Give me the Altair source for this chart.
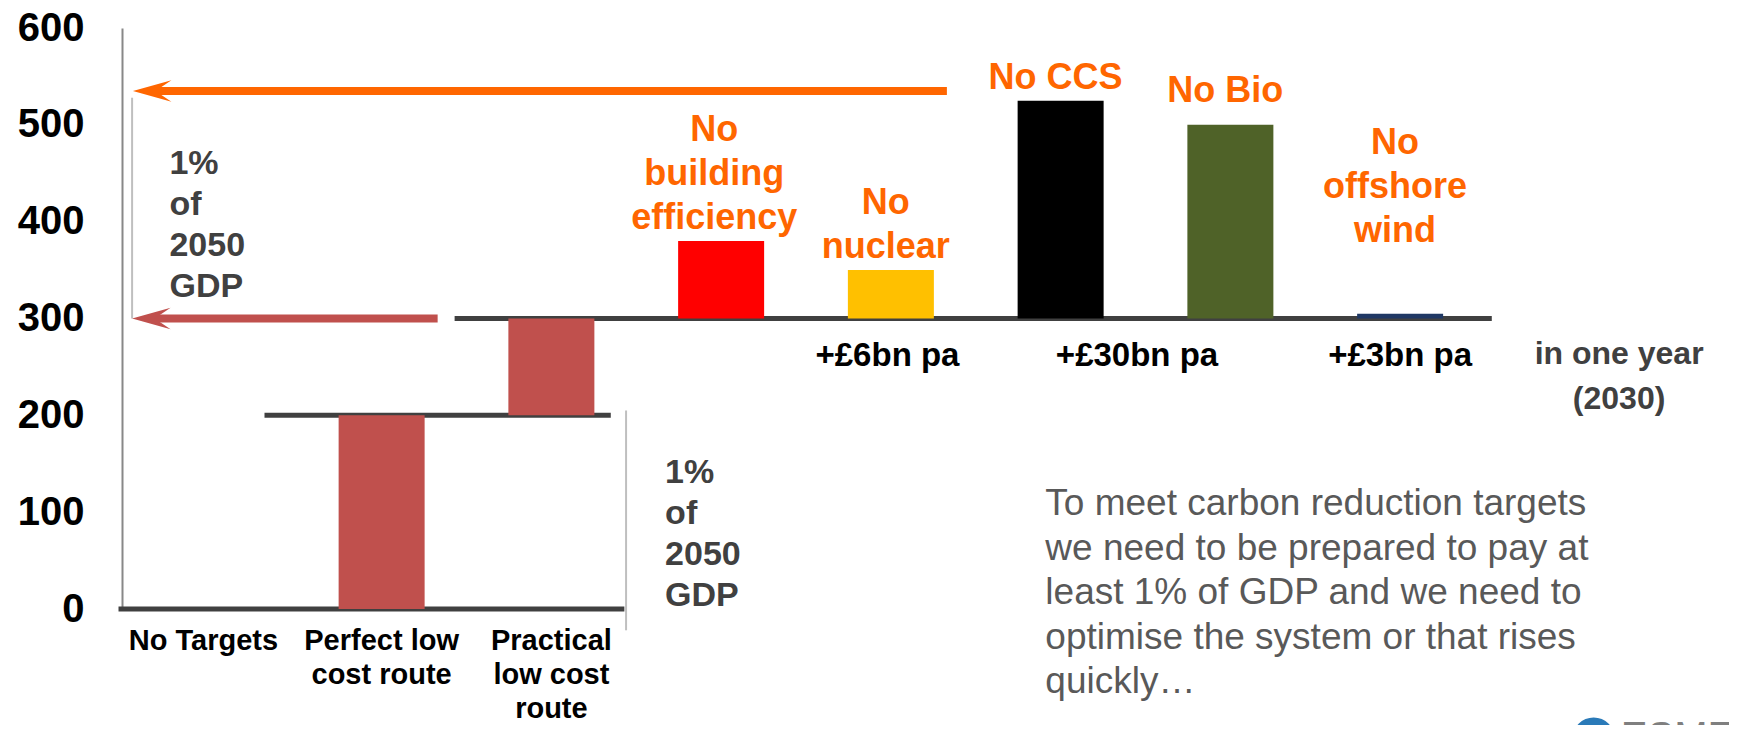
import altair as alt
import pandas as pd

FONT = "Liberation Sans"

# ---------------- data ----------------
categories = ["No Targets", "Perfect low cost route", "Practical low cost route",
              "No building efficiency", "No nuclear", "No CCS", "No Bio", "No offshore wind"]
bar_base = [0, 0, 200, 300, 300, 300, 300, 300]
bar_top = [0, 200, 300, 380, 350, 525, 500, 305]
bar_colors = ["#C0504D", "#C0504D", "#C0504D", "#FF0000", "#FFC000", "#000000", "#4F6228", "#1F3864"]

axis_labels = ["No Targets", "Perfect low\ncost route", "Practical\nlow cost\nroute"]
axis_label_pos = [0.45, 1.5, 2.5]

scenario_labels = ["No\nbuilding\nefficiency", "No\nnuclear", "No CCS", "No Bio", "No\noffshore\nwind"]
scenario_label_pos = [3.46, 4.47, 5.47, 6.47, 7.47]
scenario_label_level = [483, 408, 537, 524, 470]

cost_labels = ["+£6bn pa", "+£30bn pa", "+£3bn pa"]
cost_label_pos = [4.48, 5.95, 7.5]
cost_label_level = [251, 251, 251]

levels = [0, 200, 300]
level_from = [-0.05, 0.81, 1.93]
level_to = [2.93, 2.85, 8.04]

arrow_level = [535, 300]
arrow_from = [4.83, 1.83]
arrow_to = [0.035, 0.03]
arrow_colors = ["#FF6600", "#C0504D"]

bracket_pos = [0.03, 2.94]
bracket_from = [300, -22]
bracket_to = [528, 205]

gdp_notes = ["1%\nof\n2050\nGDP", "1%\nof\n2050\nGDP"]
gdp_note_pos = [0.25, 3.17]
gdp_note_level = [449, 130]

year_note = ["in one year\n(2030)"]
year_note_pos = [8.79]
year_note_level = [253]

body_text = ["To meet carbon reduction targets\nwe need to be prepared to pay at\nleast 1% of GDP and we need to\noptimise the system or that rises\nquickly\u2026"]
body_pos = [5.41]
body_level = [97]

logo_text = ["ESME"]
logo_pos = [8.80]
logo_level = [-146]
globe_pos = [8.64]
globe_level = [-134]

# ---------------- tables ----------------
bars = pd.DataFrame({"cat": categories, "idx": list(range(len(categories))),
                     "base": bar_base, "top": bar_top, "color": bar_colors})
bars = bars[bars["top"] > bars["base"]]

axis_df = pd.DataFrame({"label": axis_labels, "pos": axis_label_pos, "zero": [0, 0, 0]})
scen_df = pd.DataFrame({"label": scenario_labels, "pos": scenario_label_pos,
                        "level": scenario_label_level})
cost_df = pd.DataFrame({"label": cost_labels, "pos": cost_label_pos, "level": cost_label_level})
lvl_df = pd.DataFrame({"v": levels, "x0": level_from, "x1": level_to})
arr_df = pd.DataFrame({"v": arrow_level, "x0": arrow_from, "x1": arrow_to, "color": arrow_colors})
br_df = pd.DataFrame({"x": bracket_pos, "y0": bracket_from, "y1": bracket_to})
gdp_df = pd.DataFrame({"label": gdp_notes, "pos": gdp_note_pos, "level": gdp_note_level})
year_df = pd.DataFrame({"label": year_note, "pos": year_note_pos, "level": year_note_level})
body_df = pd.DataFrame({"label": body_text, "pos": body_pos, "level": body_level})
logo_df = pd.DataFrame({"label": logo_text, "pos": logo_pos, "level": logo_level})
globe_df = pd.DataFrame({"pos": globe_pos, "level": globe_level})

xs = alt.Scale(domain=[0, 8], nice=False, zero=False)
ys = alt.Scale(domain=[0, 600], nice=False, zero=False)

yaxis = alt.Axis(values=[0, 100, 200, 300, 400, 500, 600], title=None, grid=False,
                 ticks=False, labelFont=FONT, labelFontSize=40, labelFontWeight="bold",
                 labelColor="#000000", labelPadding=38, domainColor="#888888",
                 domainWidth=2)


def X(field):
    return alt.X(field, scale=xs, axis=None)


def Y(field):
    return alt.Y(field, scale=ys, axis=yaxis)


level_lines = alt.Chart(lvl_df).mark_rule(color="#404040", strokeWidth=5).encode(
    x=X("x0:Q"), x2="x1:Q", y=Y("v:Q"))

brackets = alt.Chart(br_df).mark_rule(color="#BFBFBF", strokeWidth=2).encode(
    x=X("x:Q"), y=Y("y0:Q"), y2="y1:Q")

bar_layer = alt.Chart(bars).transform_calculate(center="datum.idx + 0.5").mark_bar(size=86).encode(
    x=X("center:Q"), y=Y("base:Q"), y2="top:Q",
    color=alt.Color("color:N", scale=None))

arrow_shafts = alt.Chart(arr_df).transform_calculate(xe="datum.x1 + 0.12").mark_rule(
    strokeWidth=8, strokeCap="butt").encode(
    x=X("x0:Q"), x2="xe:Q", y=Y("v:Q"),
    color=alt.Color("color:N", scale=None))

arrow_heads = alt.Chart(arr_df).mark_point(
    shape="M0,0L2,-0.56L1.17,0L2,0.56Z", filled=True, opacity=1, size=1482, strokeWidth=0).encode(
    x=X("x1:Q"), y=Y("v:Q"),
    color=alt.Color("color:N", scale=None))

axis_text = alt.Chart(axis_df).mark_text(
    font=FONT, fontSize=29, fontWeight="bold", color="#000000", align="center",
    baseline="alphabetic", lineBreak="\n", lineHeight=34, dy=41).encode(
    x=X("pos:Q"), y=Y("zero:Q"), text="label:N")

scen_text = alt.Chart(scen_df).mark_text(
    font=FONT, fontSize=36, fontWeight="bold", color="#FF6600", align="center",
    baseline="alphabetic", lineBreak="\n", lineHeight=44).encode(
    x=X("pos:Q"), y=Y("level:Q"), text="label:N")

cost_text = alt.Chart(cost_df).mark_text(
    font=FONT, fontSize=33, fontWeight="bold", color="#000000", align="center",
    baseline="alphabetic").encode(
    x=X("pos:Q"), y=Y("level:Q"), text="label:N")

year_text = alt.Chart(year_df).mark_text(
    font=FONT, fontSize=32, fontWeight="bold", color="#404040", align="center",
    baseline="alphabetic", lineBreak="\n", lineHeight=45).encode(
    x=X("pos:Q"), y=Y("level:Q"), text="label:N")

gdp_text = alt.Chart(gdp_df).mark_text(
    font=FONT, fontSize=34, fontWeight="bold", color="#404040", align="left",
    baseline="alphabetic", lineBreak="\n", lineHeight=41).encode(
    x=X("pos:Q"), y=Y("level:Q"), text="label:N")

body = alt.Chart(body_df).mark_text(
    font=FONT, fontSize=37, color="#595959", align="left",
    baseline="alphabetic", lineBreak="\n", lineHeight=44.5).encode(
    x=X("pos:Q"), y=Y("level:Q"), text="label:N")

globe = alt.Chart(globe_df).mark_point(shape="circle", filled=True, opacity=1, size=1810,
                                       color="#2A7AB8").encode(
    x=X("pos:Q"), y=Y("level:Q"))

logo = alt.Chart(logo_df).mark_text(
    font=FONT, fontSize=40, color="#7F7F7F", align="left", baseline="alphabetic").encode(
    x=X("pos:Q"), y=Y("level:Q"), text="label:N")

chart = alt.layer(
    level_lines, brackets, bar_layer, arrow_shafts, arrow_heads,
    axis_text, scen_text, cost_text, year_text, gdp_text, body, globe, logo
).properties(
    width=1368, height=581,
    autosize=alt.AutoSizeParams(type="none"),
    padding={"left": 114, "top": 20, "right": 239, "bottom": 116},
).configure(background="white").configure_view(stroke=None)

chart.save("out.html", embed_options={"renderer": "svg", "actions": False})
